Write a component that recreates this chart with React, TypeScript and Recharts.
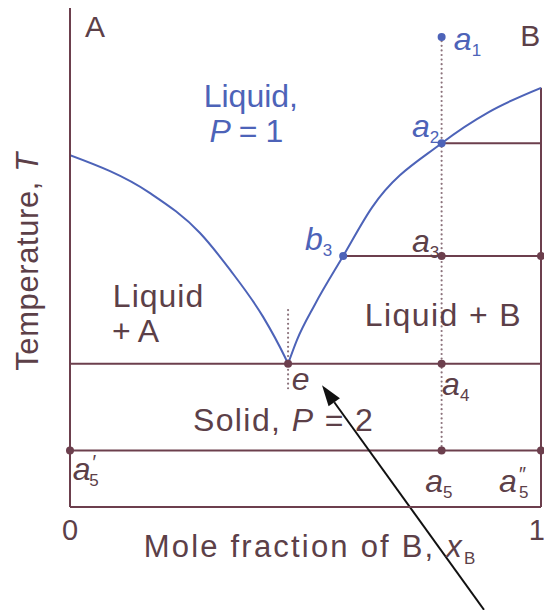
import { ComposedChart, Line, XAxis, YAxis, ReferenceLine, ReferenceDot, Label } from 'recharts';

const BLUE = '#4d63b8';
const MAROON = '#6c3f4d';
const INK = '#5c4048';
const DOTTED = '#8c737c';
const FONT = '"Liberation Sans", Arial, Helvetica, sans-serif';

// liquidus of A (left branch) and of B (right branch), composition xB vs temperature
const leftX = [0, 0.17, 0.276, 0.34, 0.41, 0.456, 0.463];
const leftT = [70.5, 62.9, 54.9, 47.5, 38.1, 30.1, 28.7];
const rightX = [0.463, 0.482, 0.52, 0.58, 0.641, 0.789, 0.89, 1];
const rightT = [28.7, 33.5, 40.6, 50.3, 60.0, 72.9, 79.2, 84.0];

// tie lines: starting composition and temperature, each runs to xB = 1
const tieFromX = [0.789, 0.58, 0, 0];
const tieT = [72.9, 50.3, 28.7, 11.3];

// isopleth through a1..a5 and the short guide at the eutectic
const isoplethX = 0.789;
const isoplethT = [11.3, 94.2];
const eutecticX = 0.463;
const eutecticGuideT = [23.8, 39.9];

// marked points
const blueDotX = [0.789, 0.789, 0.58];
const blueDotT = [94.2, 72.9, 50.3];
const inkDotX = [0.789, 1, 0.463, 0.789, 0, 0.789, 1];
const inkDotT = [50.3, 50.3, 28.7, 28.7, 11.3, 11.3, 11.3];

// pointer to the eutectic label
const arrowX = [0.879, 0.535];
const arrowT = [-20.6, 24.4];

const xTicks = [0, 1];

const toPoints = (xs: number[], ts: number[]) => xs.map((x, i) => ({ x, t: ts[i] }));
const leftLiquidus = toPoints(leftX, leftT);
const rightLiquidus = toPoints(rightX, rightT);
const tieLines = tieFromX.map((x0, i) => toPoints([x0, 1], [tieT[i], tieT[i]]));

type Part = { s: string; it?: boolean; sub?: boolean; sup?: boolean };
type Note = { x: number; t: number; parts: Part[]; color: string; size: number; anchor: 'start' | 'middle'; spacing?: number };

const aLabel = (x: number, t: number, n: string, color: string, prime = ''): Note => ({
  x, t, color, size: 32, anchor: 'start',
  parts: prime
    ? [{ s: 'a', it: true }, { s: prime, sup: true }, { s: n, sub: true }]
    : [{ s: 'a', it: true }, { s: n, sub: true }],
});

const notes: Note[] = [
  { x: 0.053, t: 94.2, parts: [{ s: 'A' }], color: INK, size: 30, anchor: 'middle' },
  { x: 0.977, t: 92.4, parts: [{ s: 'B' }], color: INK, size: 30, anchor: 'middle' },
  { x: 0.384, t: 80.2, parts: [{ s: 'Liquid,' }], color: BLUE, size: 32, anchor: 'middle' },
  { x: 0.374, t: 73.1, parts: [{ s: 'P', it: true }, { s: ' = 1' }], color: BLUE, size: 32, anchor: 'middle', spacing: -0.5 },
  { x: 0.091, t: 40.1, parts: [{ s: 'Liquid' }], color: INK, size: 32, anchor: 'start', spacing: 1 },
  { x: 0.089, t: 33.1, parts: [{ s: '+ A' }], color: INK, size: 32, anchor: 'start' },
  { x: 0.626, t: 36.3, parts: [{ s: 'Liquid + B' }], color: INK, size: 32, anchor: 'start', spacing: 1.4 },
  { x: 0.261, t: 15.2, parts: [{ s: 'Solid, ' }, { s: 'P', it: true }, { s: ' = 2' }], color: INK, size: 32, anchor: 'start', spacing: 1.4 },
  { x: 0.471, t: 23.4, parts: [{ s: 'e', it: true }], color: INK, size: 32, anchor: 'start' },
  aLabel(0.815, 91.6, '1', BLUE),
  aLabel(0.726, 74.1, '2', BLUE),
  { x: 0.499, t: 51.5, parts: [{ s: 'b', it: true }, { s: '3', sub: true }], color: BLUE, size: 32, anchor: 'start' },
  aLabel(0.726, 51.1, '3', INK),
  aLabel(0.79, 22.4, '4', INK),
  aLabel(0.754, 3.0, '5', INK),
  aLabel(0.911, 3.0, '5', INK, '\u2033'),
  aLabel(0.006, 5.4, '5', INK, '\u2032'),
];

const renderParts = (parts: Part[]) => {
  const out: JSX.Element[] = [];
  let shift = 0;
  parts.forEach((p, i) => {
    if (p.sub) {
      const back = parts[i - 1]?.sup ? -6 : 0;
      out.push(<tspan key={i} dx={back} dy={6 - shift} fontSize={17} fontStyle="normal">{p.s}</tspan>);
      shift = 6;
    } else if (p.sup) {
      out.push(<tspan key={i} dx={1} dy={-11 - shift} fontSize={20} fontStyle="italic">{p.s}</tspan>);
      shift = -11;
    } else {
      out.push(<tspan key={i} dy={-shift} fontStyle={p.it ? 'italic' : 'normal'}>{p.s}</tspan>);
      shift = 0;
    }
  });
  return out;
};

const noteShape = (n: Note) => (props: any) => (
  <text
    x={props.cx}
    y={props.cy}
    fill={n.color}
    fontSize={n.size}
    fontFamily={FONT}
    textAnchor={n.anchor}
    letterSpacing={n.spacing ?? 0}
  >
    {renderParts(n.parts)}
  </text>
);

const ArrowShape = (props: any) => {
  const { x1, y1, x2, y2 } = props;
  const len = Math.hypot(x2 - x1, y2 - y1);
  const ux = (x2 - x1) / len;
  const uy = (y2 - y1) / len;
  const head = 21;
  const half = 7;
  const bx = x2 - ux * head;
  const by = y2 - uy * head;
  return (
    <g>
      <line x1={x1} y1={y1} x2={bx} y2={by} stroke="#111" strokeWidth={2} />
      <polygon
        points={`${x2},${y2} ${bx - uy * half},${by + ux * half} ${bx + uy * half},${by - ux * half}`}
        fill="#111"
      />
    </g>
  );
};

const XTitle = (props: any) => {
  const { x, y, width } = props.viewBox;
  return (
    <text x={x + width / 2 + 4} y={y + 50} fill={INK} fontSize={31} fontFamily={FONT} textAnchor="middle" letterSpacing={2.2}>
      Mole fraction of B, <tspan fontStyle="italic">x</tspan>
      <tspan fontSize={17} dy={7} letterSpacing={0}>B</tspan>
    </text>
  );
};

const YTitle = (props: any) => {
  const { y, height } = props.viewBox;
  const cx = 38;
  const cy = y + height / 2 + 4;
  return (
    <text x={cx} y={cy} transform={`rotate(-90, ${cx}, ${cy})`} fill={INK} fontSize={31} fontFamily={FONT} textAnchor="middle" letterSpacing={0.6}>
      Temperature, <tspan fontStyle="italic">T</tspan>
    </text>
  );
};

export default function App() {
  return (
    <div style={{ width: 544, height: 610, background: '#fff' }}>
      <style>{'body{margin:0}'}</style>
      <ComposedChart width={544} height={610} margin={{ top: 8, right: 3, bottom: 0, left: 0 }}>
        <XAxis
          type="number"
          dataKey="x"
          domain={[0, 1]}
          ticks={xTicks}
          allowDataOverflow
          height={103}
          tickLine={false}
          tickMargin={6}
          axisLine={{ stroke: MAROON, strokeWidth: 2 }}
          tick={{ fill: INK, fontSize: 29, fontFamily: FONT }}
        >
          <Label content={XTitle} />
        </XAxis>
        <YAxis
          type="number"
          dataKey="t"
          domain={[0, 100]}
          allowDataOverflow
          width={70}
          tick={false}
          tickLine={false}
          axisLine={{ stroke: MAROON, strokeWidth: 2 }}
        >
          <Label content={YTitle} />
        </YAxis>

        {/* right edge at pure B */}
        <ReferenceLine segment={[{ x: 1, y: 0 }, { x: 1, y: rightT[rightT.length - 1] }]} stroke={MAROON} strokeWidth={2} />

        {/* isopleth and eutectic guide */}
        <ReferenceLine
          segment={[{ x: isoplethX, y: isoplethT[0] }, { x: isoplethX, y: isoplethT[1] }]}
          stroke={DOTTED}
          strokeWidth={2.2}
          strokeDasharray="0 4.6"
          strokeLinecap="round"
        />
        <ReferenceLine
          segment={[{ x: eutecticX, y: eutecticGuideT[0] }, { x: eutecticX, y: eutecticGuideT[1] }]}
          stroke={DOTTED}
          strokeWidth={2.2}
          strokeDasharray="0 4.6"
          strokeLinecap="round"
        />

        {tieLines.map((d, i) => (
          <Line
            key={`tie-${i}`}
            data={d}
            dataKey="t"
            type="linear"
            stroke={MAROON}
            strokeWidth={2}
            dot={false}
            activeDot={false}
            isAnimationActive={false}
          />
        ))}

        <Line data={leftLiquidus} dataKey="t" type="monotone" stroke={BLUE} strokeWidth={2} dot={false} activeDot={false} isAnimationActive={false} />
        <Line data={rightLiquidus} dataKey="t" type="monotone" stroke={BLUE} strokeWidth={2} dot={false} activeDot={false} isAnimationActive={false} />

        {inkDotX.map((x, i) => (
          <ReferenceDot key={`ink-${i}`} x={x} y={inkDotT[i]} r={4} fill={MAROON} stroke="none" ifOverflow="visible" />
        ))}
        {blueDotX.map((x, i) => (
          <ReferenceDot key={`blue-${i}`} x={x} y={blueDotT[i]} r={4} fill={BLUE} stroke="none" ifOverflow="visible" />
        ))}

        {notes.map((n, i) => (
          <ReferenceDot key={`note-${i}`} x={n.x} y={n.t} r={0} ifOverflow="visible" shape={noteShape(n)} />
        ))}

        <ReferenceLine
          segment={[{ x: arrowX[0], y: arrowT[0] }, { x: arrowX[1], y: arrowT[1] }]}
          ifOverflow="visible"
          shape={ArrowShape}
        />
      </ComposedChart>
    </div>
  );
}
